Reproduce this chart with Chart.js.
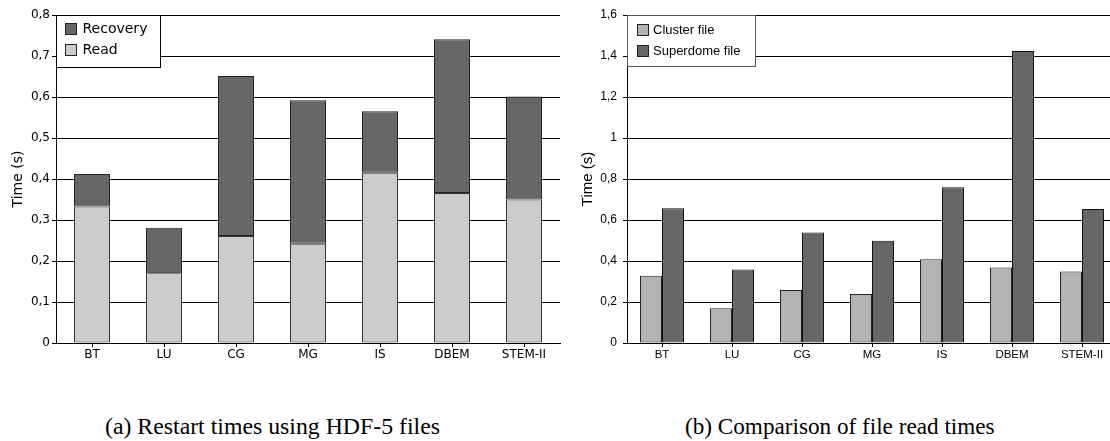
<!DOCTYPE html>
<html><head><meta charset="utf-8">
<script src="https://cdn.jsdelivr.net/npm/chart.js@4.4.1/dist/chart.umd.min.js"></script>
<style>
html,body{margin:0;padding:0;background:#fff;overflow:hidden;width:1110px;height:441px;position:relative;}
#wrapA{position:absolute;left:0;top:0;}
#wrapB{position:absolute;left:560px;top:0;}
.cap{position:absolute;top:414px;font-family:'Liberation Serif';font-size:24px;line-height:24px;white-space:nowrap;color:#000;transform-origin:left top;}
</style></head><body>
<div id="wrapA"><canvas id="ca" width="562" height="370"></canvas></div>
<div id="wrapB"><canvas id="cb" width="562" height="370"></canvas></div>
<div class="cap" id="capA">(a) Restart times using HDF-5 files</div>
<div class="cap" id="capB">(b) Comparison of file read times</div>
<script>
// ---- data ----
const categories = ['BT', 'LU', 'CG', 'MG', 'IS', 'DBEM', 'STEM-II'];
const readTimes = [0.333, 0.17, 0.261, 0.242, 0.415, 0.366, 0.35];
const recoveryTimes = [0.079, 0.111, 0.39, 0.35, 0.15, 0.375, 0.251];
const clusterFile = [0.328, 0.17, 0.259, 0.239, 0.409, 0.368, 0.349];
const superdomeFile = [0.657, 0.359, 0.539, 0.499, 0.76, 1.425, 0.654];
const yTicksA = ['0', '0,1', '0,2', '0,3', '0,4', '0,5', '0,6', '0,7', '0,8'];
const yTicksB = ['0', '0,2', '0,4', '0,6', '0,8', '1', '1,2', '1,4', '1,6'];

const boxLegend = {
  id: 'boxLegend',
  afterDraw(chart, args, o) {
    const ctx = chart.ctx, a = chart.chartArea;
    const x = Math.round(a.left) + 0.5, y = Math.round(a.top) + 0.5;
    ctx.save();
    ctx.fillStyle = '#fff';
    ctx.fillRect(x, y, o.w, o.h);
    ctx.strokeStyle = o.border; ctx.lineWidth = 1;
    ctx.strokeRect(x, y, o.w, o.h);
    ctx.font = o.font; ctx.textBaseline = 'middle'; ctx.textAlign = 'left';
    o.order.forEach((di, i) => {
      const ds = chart.data.datasets[di];
      const cy = y + o.rows[i];
      const s = o.sw;
      const sx = Math.round(x + o.swX) + 0.5, sy = Math.round(cy - s / 2) + 0.5;
      ctx.fillStyle = ds.backgroundColor;
      ctx.fillRect(sx, sy, s, s);
      ctx.strokeStyle = '#222';
      ctx.strokeRect(sx, sy, s, s);
      ctx.fillStyle = '#000';
      ctx.fillText(ds.label, x + o.textX, cy + 1);
    });
    ctx.restore();
  }
};

function makeOpts(cfg) {
  return {
    responsive: false, animation: false, devicePixelRatio: 1,
    layout: { padding: { top: 15, right: cfg.padR, left: 0, bottom: 0 } },
    plugins: { legend: { display: false }, tooltip: { enabled: false }, boxLegend: cfg.legend },
    scales: {
      x: {
        stacked: cfg.stacked,
        grid: { display: true, drawOnChartArea: false, drawTicks: true, tickLength: 4, offset: false, color: '#000' },
        border: { display: true, color: '#000', width: 1 },
        ticks: { font: { family: cfg.family, size: cfg.xSize }, color: '#000', padding: 1, maxRotation: 0, autoSkip: false },
        afterFit(s) { s.height = 27; }
      },
      y: {
        stacked: cfg.stacked, min: 0, max: cfg.max,
        grid: { color: '#000', lineWidth: 1, drawTicks: true, tickLength: 4 },
        border: { display: true, color: '#000', width: 1 },
        ticks: { stepSize: cfg.step, font: { family: cfg.family, size: cfg.ySize }, color: '#000', padding: cfg.tickPad,
                 callback: (v, i) => cfg.tickLabels[i] },
        title: { display: true, text: 'Time (s)', color: '#000', font: { family: cfg.family, size: cfg.titleSize },
                 padding: { top: cfg.titlePad, bottom: 0 } },
        afterFit(s) { s.width = cfg.axisW; }
      }
    }
  };
}

new Chart(document.getElementById('ca'), {
  type: 'bar',
  data: {
    labels: categories,
    datasets: [
      { label: 'Read', data: readTimes, backgroundColor: '#cccccc', borderColor: '#333333', borderWidth: 1, borderSkipped: false, barPercentage: 0.5, categoryPercentage: 1 },
      { label: 'Recovery', data: recoveryTimes, backgroundColor: '#666666', borderColor: '#222222', borderWidth: 1, borderSkipped: false, barPercentage: 0.5, categoryPercentage: 1 }
    ]
  },
  options: makeOpts({
    stacked: true, max: 0.8, step: 0.1, tickLabels: yTicksA, family: 'DejaVu Sans',
    xSize: 12, ySize: 12, titleSize: 14, titlePad: 10, tickPad: 2, axisW: 56, padR: 2,
    legend: { w: 104, h: 52, border: '#000', font: '14px "DejaVu Sans"', order: [1, 0], rows: [12.5, 33.5], sw: 11, swX: 8, textX: 26 }
  }),
  plugins: [boxLegend]
});

new Chart(document.getElementById('cb'), {
  type: 'bar',
  data: {
    labels: categories,
    datasets: [
      { label: 'Cluster file', data: clusterFile, backgroundColor: '#b3b3b3', borderColor: '#222222', borderWidth: 1, borderSkipped: false, barPercentage: 1, categoryPercentage: 0.6286 },
      { label: 'Superdome file', data: superdomeFile, backgroundColor: '#666666', borderColor: '#111111', borderWidth: 1, borderSkipped: false, barPercentage: 1, categoryPercentage: 0.6286 }
    ]
  },
  options: makeOpts({
    stacked: false, max: 1.6, step: 0.2, tickLabels: yTicksB, family: 'Liberation Sans',
    xSize: 11.5, ySize: 12, titleSize: 15, titlePad: 19, tickPad: 6, axisW: 67, padR: 5,
    legend: { w: 128, h: 51, border: '#555', font: '13px "Liberation Sans"', order: [0, 1], rows: [13.5, 34.5], sw: 11, swX: 9, textX: 25.5 }
  }),
  plugins: [boxLegend]
});

function fitCap(id, left, width) {
  const el = document.getElementById(id);
  const w = el.offsetWidth;
  el.style.left = left + 'px';
  el.style.transform = 'scaleX(' + (width / w) + ')';
}
fitCap('capA', 105, 335);
fitCap('capB', 685, 310);
</script>
</body></html>
